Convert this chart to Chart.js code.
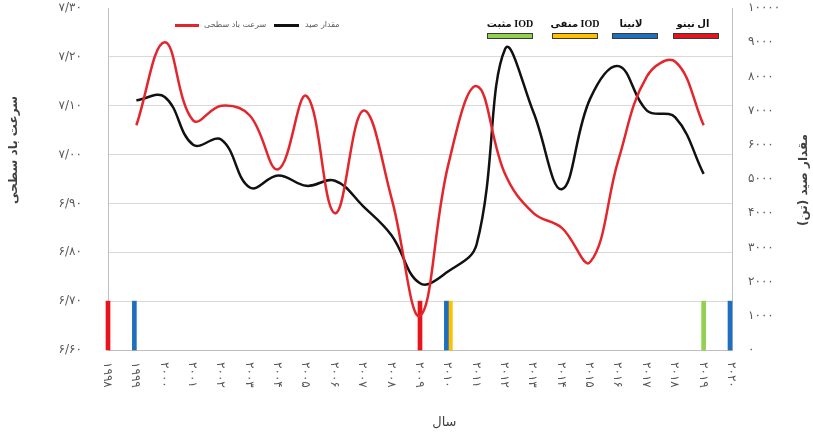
<!DOCTYPE html>
<html lang="fa">
<head>
<meta charset="utf-8">
<title>سرعت باد سطحی و مقدار صید</title>
<script src="https://cdn.jsdelivr.net/npm/chart.js@4.4.1/dist/chart.umd.min.js"></script>
<style>
  html, body { margin: 0; padding: 0; background: #fff; }
  #wrap { position: relative; width: 813px; height: 432px; }
  .abs { position: absolute; }
  .line-key { height: 3px; }
  .key-text { font-family: "DejaVu Sans", sans-serif; font-size: 8px; color: #595959; white-space: nowrap; }
  .ev-box { height: 4px; width: 44px; border: 1px solid #3a3a3a; top: 33px; }
  .ev-text { font-family: "Liberation Serif", "DejaVu Sans", serif; font-weight: bold; font-size: 10px;
             color: #111; width: 60px; text-align: center; top: 18px; white-space: nowrap; }
</style>
</head>
<body>
<div id="wrap">
  <canvas id="chart" width="813" height="432"></canvas>

  <!-- series legend -->
  <div class="abs line-key" style="left:175px; top:24px; width:24px; background:#e3262b;"></div>
  <div class="abs key-text" style="left:204px; top:20px;">سرعت باد سطحی</div>
  <div class="abs line-key" style="left:274px; top:24px; width:25px; background:#111;"></div>
  <div class="abs key-text" style="left:305px; top:20px;">مقدار صید</div>

  <!-- event legend -->
  <div class="abs ev-text" dir="rtl" style="left:480px;">IOD مثبت</div>
  <div class="abs ev-box" style="left:487px; background:#92d050;"></div>
  <div class="abs ev-text" dir="rtl" style="left:545px;">IOD منفی</div>
  <div class="abs ev-box" style="left:552px; background:#ffc000;"></div>
  <div class="abs ev-text" dir="rtl" style="left:601px;">لانینا</div>
  <div class="abs ev-box" style="left:612px; background:#1f6fbf;"></div>
  <div class="abs ev-text" dir="rtl" style="left:663px;">ال نینو</div>
  <div class="abs ev-box" style="left:673px; background:#e8141b;"></div>
</div>

<script>
// x axis years
const years = [1998, 1999, 2000, 2001, 2002, 2003, 2004, 2005, 2006, 2007, 2008,
  2009, 2010, 2011, 2012, 2013, 2014, 2015, 2016, 2017, 2018, 2019, 2020];

// series years (lines run 1999-2019)
const dataYears = [1999, 2000, 2001, 2002, 2003, 2004, 2005, 2006, 2007, 2008,
  2009, 2010, 2011, 2012, 2013, 2014, 2015, 2016, 2017, 2018, 2019];
const windSpeed = [7.06, 7.23, 7.07, 7.10, 7.08, 6.97, 7.12, 6.88, 7.09, 6.91,
  6.67, 6.98, 7.14, 6.96, 6.88, 6.85, 6.78, 6.99, 7.16, 7.19, 7.06];
const catchTons = [7300, 7400, 6000, 6150, 4750, 5100, 4800, 4950, 4200, 3350,
  1950, 2300, 3100, 8800, 6950, 4700, 7350, 8300, 7000, 6800, 5150];

// climate events (years)
const elNino = [1998, 2009];
const laNina = [1999, 2010, 2020];
const iodNegative = [2010];
const iodPositive = [2019];
const eventBand = [6.6, 6.7];

// axis ranges
const leftMin = 6.6, leftMax = 7.3, leftStep = 0.1;
const rightMin = 0, rightMax = 10000, rightStep = 1000;

const xTitle = 'سال';
const leftTitle = 'سرعت باد سطحی';
const rightTitle = 'مقدار صید (تن)\u200F';

const faDigits = '۰۱۲۳۴۵۶۷۸۹';
const toFa = s => String(s).replace(/\d/g, d => faDigits[d]);

Chart.defaults.font.family = '"DejaVu Sans", sans-serif';
Chart.defaults.color = '#595959';

function eventBars(label, yrs, color, grouped) {
  return {
    type: 'bar',
    label: label,
    data: yrs.map(yr => ({ x: yr, y: eventBand })),
    backgroundColor: color,
    borderWidth: 0,
    grouped: grouped,
    barThickness: 4,
    maxBarThickness: 4,
    yAxisID: 'y',
    clip: false,
    order: 2
  };
}

// rotated year labels + axis titles, drawn like the original
const axisText = {
  id: 'axisText',
  afterDraw(chart) {
    const sc = chart.scales.x;
    const area = chart.chartArea;
    const ctx = chart.ctx;
    ctx.save();
    ctx.font = '12px "DejaVu Sans"';
    ctx.fillStyle = '#595959';
    ctx.textAlign = 'left';
    ctx.textBaseline = 'middle';
    years.forEach(yr => {
      ctx.save();
      ctx.translate(sc.getPixelForValue(yr) - 1, sc.top + 12);
      ctx.rotate(Math.PI / 2);
      ctx.fillText(toFa(yr), 0, 0);
      ctx.restore();
    });

    ctx.fillStyle = '#404040';
    ctx.textAlign = 'center';
    ctx.font = '13px "DejaVu Sans"';
    ctx.fillText(xTitle, sc.getPixelForValue(2010) - 4, 423);

    ctx.font = 'bold 12px "DejaVu Sans"';
    ctx.save();
    ctx.translate(14, area.top + 142);
    ctx.rotate(-Math.PI / 2);
    ctx.fillText(leftTitle, 0, 0);
    ctx.restore();

    ctx.save();
    ctx.translate(804, area.top + 172);
    ctx.rotate(-Math.PI / 2);
    ctx.fillText(rightTitle, 0, 0);
    ctx.restore();
    ctx.restore();
  }
};

new Chart(document.getElementById('chart'), {
  type: 'line',
  data: {
    datasets: [
      {
        label: 'سرعت باد سطحی',
        data: dataYears.map((yr, i) => ({ x: yr, y: windSpeed[i] })),
        borderColor: '#e3262b',
        borderWidth: 2.5,
        pointRadius: 0,
        tension: 0.4,
        yAxisID: 'y',
        order: 0
      },
      {
        label: 'مقدار صید',
        data: dataYears.map((yr, i) => ({ x: yr, y: catchTons[i] })),
        borderColor: '#111111',
        borderWidth: 2.5,
        pointRadius: 0,
        tension: 0.4,
        yAxisID: 'y2',
        order: 1
      },
      eventBars('ال نینو', elNino, '#e8141b', false),
      eventBars('لانینا', laNina, '#1f6fbf', true),
      eventBars('IOD منفی', iodNegative, '#ffc000', true),
      eventBars('IOD مثبت', iodPositive, '#92d050', false)
    ]
  },
  options: {
    responsive: false,
    animation: false,
    devicePixelRatio: 1,
    layout: { padding: { top: 8 } },
    plugins: { legend: { display: false }, tooltip: { enabled: false } },
    scales: {
      x: {
        type: 'linear',
        min: years[0],
        max: years[years.length - 1],
        offset: false,
        ticks: { display: false, stepSize: 1 },
        grid: { display: false },
        border: { display: true, color: '#bfbfbf' },
        afterFit: s => { s.height = 82; }
      },
      y: {
        type: 'linear',
        position: 'left',
        min: leftMin,
        max: leftMax,
        ticks: {
          stepSize: leftStep,
          padding: 0,
          font: { size: 12 },
          callback: v => toFa(Number(v).toFixed(2)).replace('.', '/')
        },
        grid: {
          drawTicks: true,
          tickLength: 26,
          tickColor: 'rgba(0,0,0,0)',
          color: c => (c.tick && c.tick.value > leftMax - 0.05) ? 'rgba(0,0,0,0)' : '#d9d9d9'
        },
        border: { display: true, color: '#bfbfbf' },
        afterFit: s => { s.width = 108; }
      },
      y2: {
        type: 'linear',
        position: 'right',
        min: rightMin,
        max: rightMax,
        ticks: {
          stepSize: rightStep,
          padding: 0,
          font: { size: 12 },
          callback: v => toFa(v)
        },
        grid: { drawOnChartArea: false, drawTicks: true, tickLength: 16, tickColor: 'rgba(0,0,0,0)' },
        border: { display: true, color: '#bfbfbf' },
        afterFit: s => { s.width = 81; }
      }
    }
  },
  plugins: [axisText]
});
</script>
</body>
</html>
